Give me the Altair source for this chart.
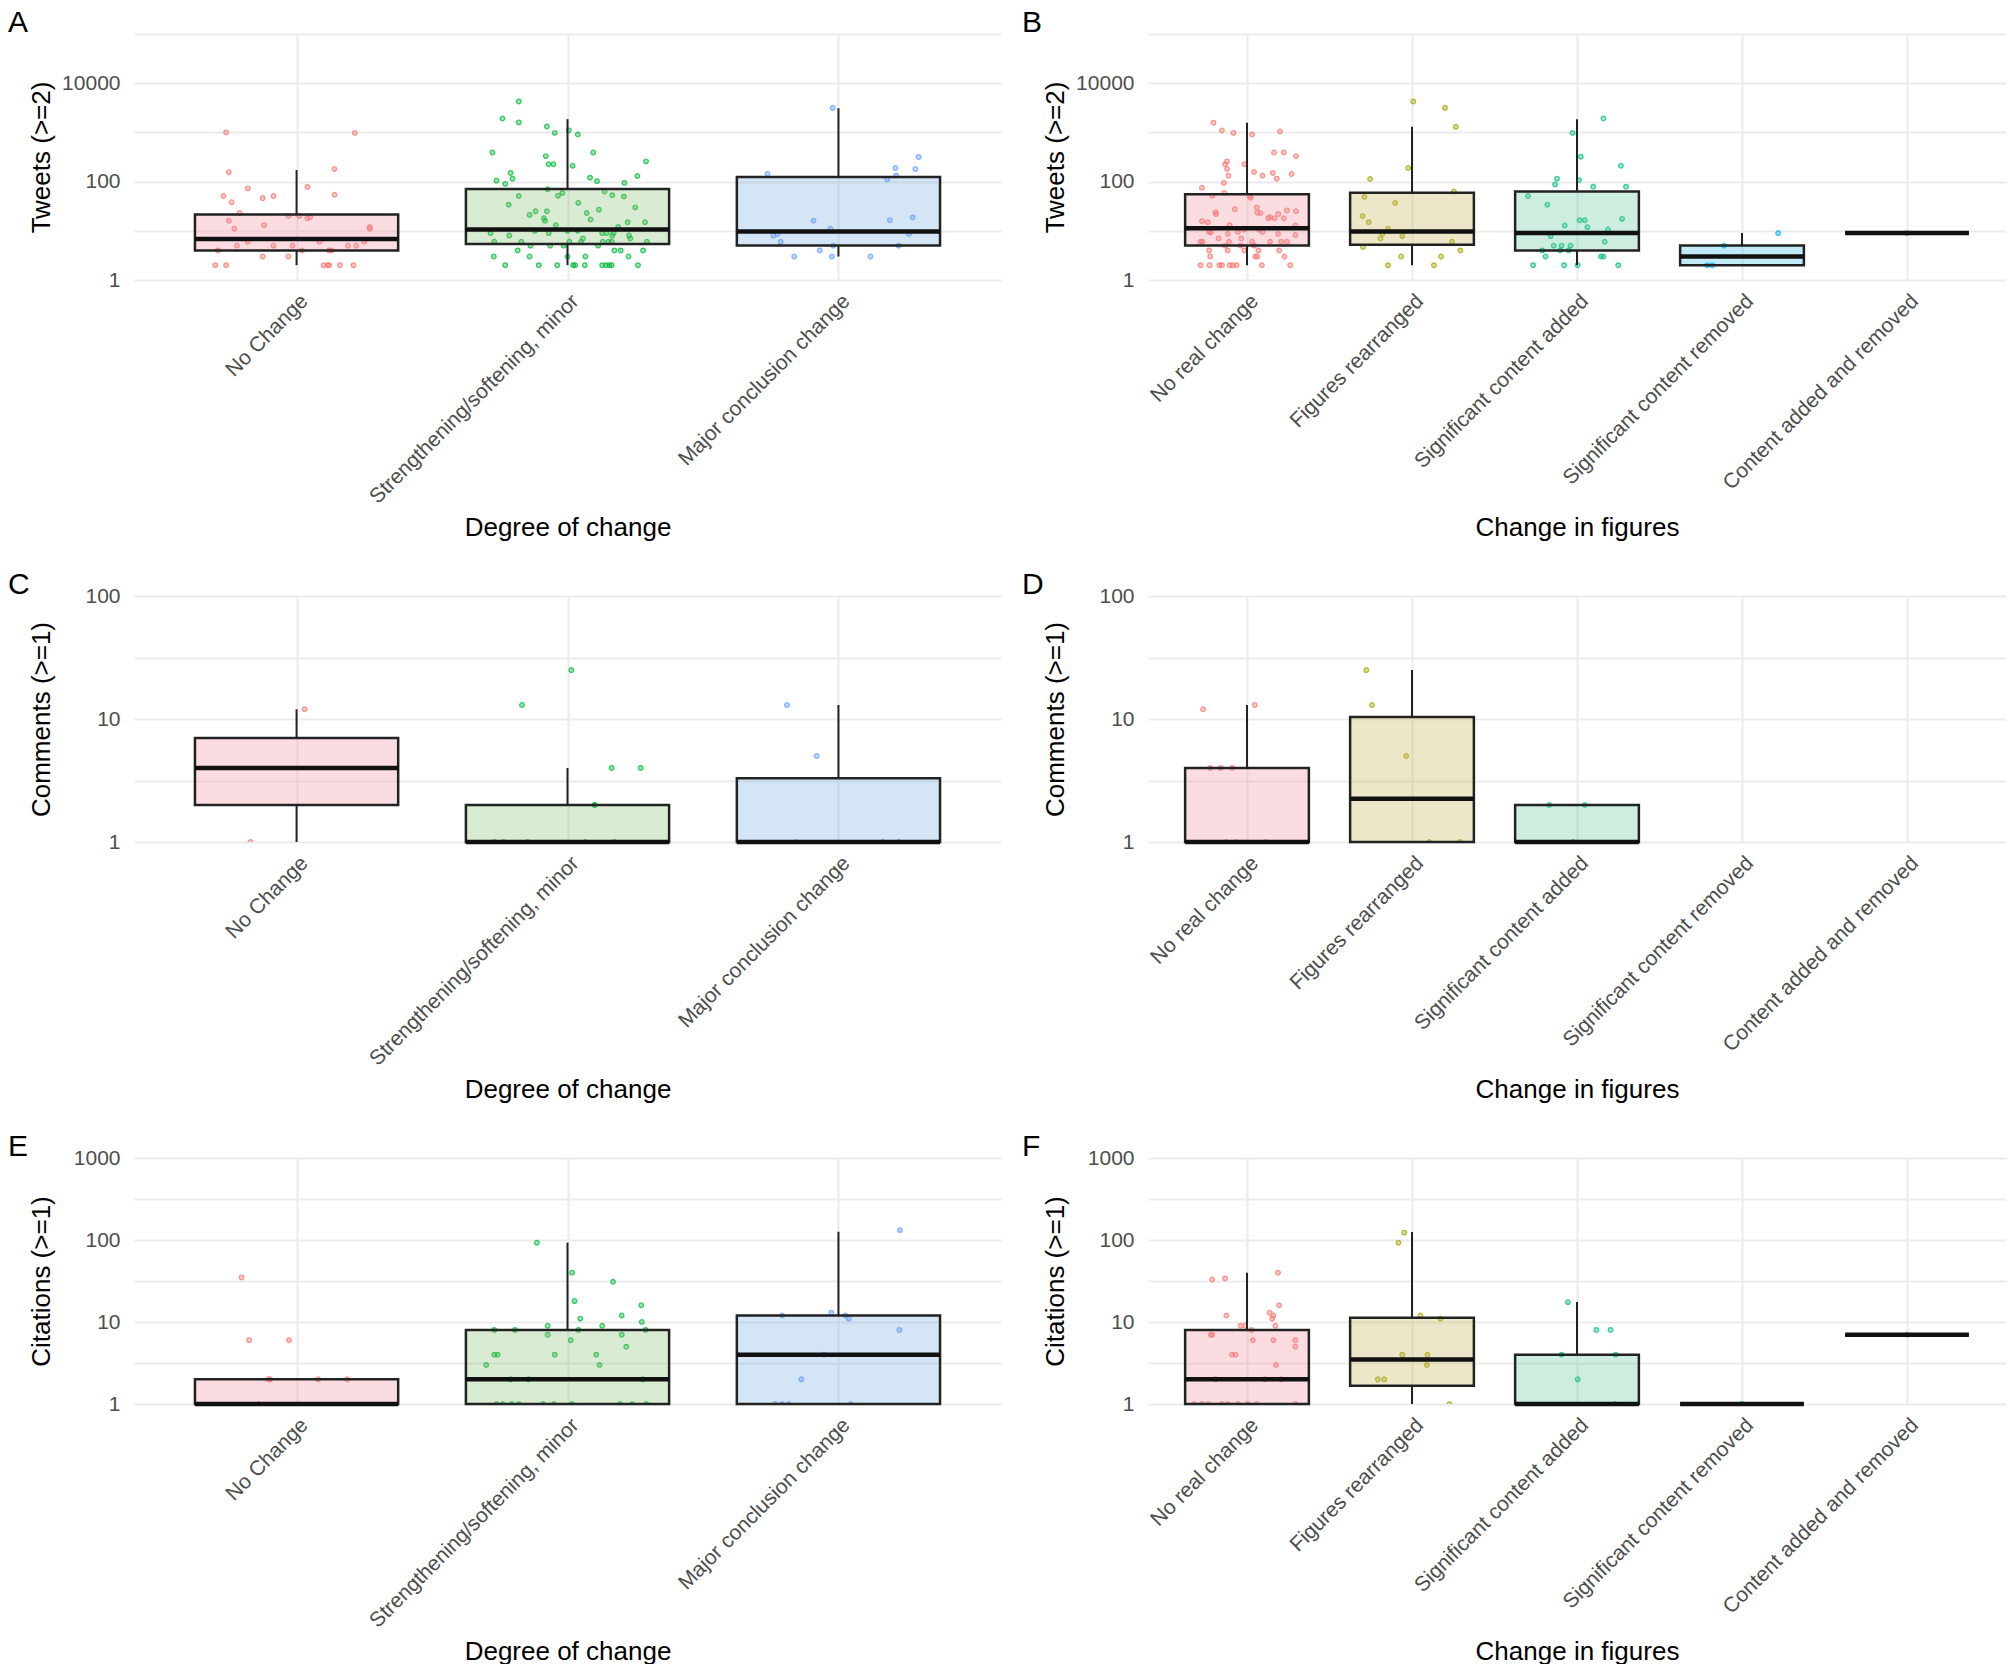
import json
import altair as alt
import pandas as pd

FONT = "Liberation Sans"

# ---------------- categories & colours ----------------
CATS_DEG = ["No Change", "Strengthening/softening, minor", "Major conclusion change"]
CATS_FIG = ["No real change", "Figures rearranged", "Significant content added",
            "Significant content removed", "Content added and removed"]
PT_DEG = ["#F8766D", "#00BA38", "#619CFF"]
PT_FIG = ["#F8766D", "#A3A500", "#00BF7D", "#00B0F6", "#E76BF3"]
FILL_DEG = ["#EE8A9B", "#84BC6C", "#70A8DE"]
FILL_FIG = ["#EE8A9B", "#C3AF4B", "#58C694", "#2AB9E1", "#E76BF3"]

# ---------------- panel A : Tweets by degree of change ----------------
A0_OFF = [-0.26, 0.215, -0.25, 0.14, -0.18, 0.04, -0.27, 0.14, -0.24, -0.125, -0.085, -0.21, -0.25, -0.12,
          -0.23, -0.03, 0.01, 0.04, 0.05, 0.27, 0.27, -0.18, -0.22, -0.085, -0.015, 0.085, 0.19, 0.22, 0.25,
          -0.29, 0.02, 0.12, 0.13, -0.125, -0.03, -0.30, -0.26, 0.10, 0.115, 0.12, 0.16, 0.21]
A0_VAL = [1000, 980, 155, 180, 73, 78, 51, 54, 38, 46, 51, 23, 16, 13, 11, 20, 20, 18, 19, 12, 11, 6, 5, 5, 5,
          6, 5, 5, 6, 4, 4, 4, 4, 3, 3, 2, 2, 2, 2, 2, 2, 2]
A1_OFF = [-0.18, -0.24, -0.18, -0.076, 0.005, -0.047, 0.038, -0.277, 0.095, -0.08,
          -0.07, -0.052, 0.019, 0.29, -0.21, 0.258, 0.083, -0.262, -0.203, -0.23,
          0.109, 0.21, -0.073, 0.137, -0.019, -0.035, 0.165, -0.18, 0.208, 0.04,
          -0.217, 0.25, 0.116, 0.071, -0.118, -0.076, -0.14, -0.087, -0.083, 0.085,
          -0.043, 0.222, 0.286, 0.187, 0.038, -0.284, -0.12, -0.069, 0.0, 0.128,
          0.144, 0.17, -0.215, 0.165, 0.227, 0.232, -0.27, -0.17, 0.057, 0.007,
          0.13, 0.151, 0.163, 0.293, 0.05, -0.137, -0.064, -0.014, 0.113, -0.184,
          0.173, 0.196, 0.279, -0.272, -0.14, 0.0, 0.066, 0.225, -0.23, -0.106,
          -0.038, 0.021, 0.028, 0.064, 0.128, 0.142, 0.154, 0.163, 0.26]
A1_VAL = [4260, 1920, 1600, 1320, 1100, 980, 910, 390, 390, 330,
          225, 225, 210, 258, 150, 130, 120, 105, 115, 90,
          102, 94, 70, 63, 59, 52, 53, 51, 50, 37,
          34, 30, 27, 23, 25, 25, 21, 18, 16, 17,
          13, 15, 15, 12, 10, 9, 10, 9, 10, 9,
          9, 9, 8, 8, 8, 7, 6, 6, 7, 6,
          6, 6, 6, 6, 6, 5, 5, 5, 5, 4,
          4, 4, 4, 3, 3, 3, 3, 3, 2, 2,
          2, 2, 2, 2, 2, 2, 2, 2, 2]
A2_OFF = [-0.021, -0.262, 0.21, 0.284, 0.296, 0.213, 0.18, -0.092, 0.19, 0.274, -0.03, -0.24, -0.225, 0.26,
          -0.213, -0.019, 0.222, -0.024, -0.163, -0.069, 0.118]
A2_VAL = [3160, 143, 189, 180, 317, 132, 111, 16, 16.5, 18.7, 11, 8, 8.6, 8.6, 6, 5, 5, 3, 3, 4, 3]
A_Q1 = [4, 5.4, 5]
A_MED = [6.8, 10.6, 9.7]
A_Q3 = [21.5, 71, 124]
A_LO = [2, 2, 3]
A_HI = [172, 1860, 3100]

# ---------------- panel B : Tweets by change in figures ----------------
B0_OFF = [-0.203, -0.152, -0.082, 0.031, 0.2, 0.164, 0.223, 0.297, -0.121, -0.133,
          -0.016, -0.121, -0.113, 0.043, 0.094, 0.156, 0.18, 0.27, -0.14, -0.273,
          -0.21, -0.137, 0.023, 0.016, -0.19, -0.188, -0.074, 0.059, 0.082, 0.063,
          0.129, 0.14, 0.168, 0.19, 0.223, 0.242, 0.297, -0.273, -0.238, -0.105,
          -0.016, 0.074, 0.293, -0.23, -0.219, -0.117, -0.055, 0.094, 0.188, -0.281,
          -0.27, -0.172, -0.109, -0.035, 0.031, 0.14, 0.207, 0.242, 0.293, -0.133,
          -0.039, 0.043, -0.23, -0.117, -0.016, 0.07, 0.195, -0.223, 0.05, 0.063,
          0.227, -0.281, -0.227, -0.168, -0.152, -0.105, -0.086, -0.063, 0.09, 0.262]
B0_VAL = [1580, 1100, 980, 910, 1050, 390, 390, 330, 258, 225,
          225, 180, 132, 158, 132, 150, 115, 143, 94, 75,
          52, 59, 47, 50, 24, 22, 27.5, 30, 23, 23.5,
          18, 19, 18, 22, 18, 26, 25, 15.7, 15, 13,
          10.6, 10.5, 12.8, 9.5, 9.3, 8.6, 9.5, 9.5, 8.6, 6,
          6, 7, 6, 7, 6, 6, 6, 6, 8.2, 5,
          5, 5, 4, 4, 4, 4, 4, 3, 3, 3,
          3, 2, 2, 2, 2, 2, 2, 2, 2, 2]
B1_OFF = [0.008, 0.2, 0.266, -0.023, -0.254, 0.254, -0.289, -0.102, -0.3, -0.262, -0.145, -0.18, -0.059,
          -0.191, 0.242, -0.297, 0.293, -0.066, 0.176, -0.145, 0.133]
B1_VAL = [4260, 3160, 1300, 189, 113, 63, 49, 37, 20, 15, 11, 8.7, 7.8, 7, 6, 4.7, 4, 3, 3, 2, 2]
B2_OFF = [0.16, -0.027, 0.023, 0.266, -0.121, 0.012, -0.133, 0.098, 0.297, -0.297, -0.18, 0.273, -0.074,
          0.016, 0.047, 0.188, 0.063, -0.16, 0.168, -0.141, -0.094, -0.039, -0.211, -0.102, -0.051, -0.191,
          0.145, 0.16, -0.266, -0.078, 0.004, 0.25]
B2_VAL = [1920, 980, 320, 210, 115, 107, 88, 79, 79, 51, 34, 17.5, 12.8, 16.4, 16.4, 10.6, 11.9, 7.8, 6,
          5, 5, 5, 4, 4, 4, 3, 3, 3, 2, 2, 2, 2]
B3_OFF = [0.219, -0.109, -0.211, -0.18]
B3_VAL = [9, 5, 2, 2]
B4_OFF = [0.0]
B4_VAL = [9]
B_Q1 = [5, 5.2, 4, 2, 9]
B_MED = [11.3, 9.7, 9, 3, 9]
B_Q3 = [55, 59, 63, 5, 9]
B_LO = [2, 2, 2, 2, 9]
B_HI = [1580, 1300, 1860, 9, 9]

# ---------------- panel C : Comments by degree of change ----------------
C0_OFF = [0.03, -0.17]
C0_VAL = [12, 1]
C1_OFF = [0.014, -0.168, 0.163, 0.27, 0.10, 0.10, -0.27, -0.236, -0.147, 0.066, 0.173]
C1_VAL = [25, 13, 4, 4, 2, 2, 1, 1, 1, 1, 1]
C2_OFF = [-0.19, -0.08, -0.156, 0.163, 0.222]
C2_VAL = [13, 5, 1, 1, 1]
C_Q1 = [2, 1, 1]
C_MED = [4, 1, 1]
C_Q3 = [7, 2, 3.3]
C_LO = [1, 1, 1]
C_HI = [12, 4, 13]

# ---------------- panel D : Comments by change in figures ----------------
D0_OFF = [-0.266, 0.047, -0.223, -0.16, -0.09, -0.125, -0.07, 0.113]
D0_VAL = [12, 13, 4, 4, 4, 1, 1, 1]
D1_OFF = [-0.277, -0.242, -0.035, 0.105, 0.293]
D1_VAL = [25, 13, 5, 1, 1]
D2_OFF = [-0.168, 0.047, -0.023]
D2_VAL = [2, 2, 1]
D_IDX = [0, 1, 2]
D_Q1 = [1, 1, 1]
D_MED = [1, 2.25, 1]
D_Q3 = [4, 10.4, 2]
D_LO = [1, 1, 1]
D_HI = [13, 25, 2]

# ---------------- panel E : Citations by degree of change ----------------
E0_OFF = [-0.203, -0.175, -0.028, -0.104, -0.097, 0.08, 0.187, -0.14]
E0_VAL = [35, 6, 6, 2, 2, 2, 2, 1]
E1_OFF = [-0.113, 0.017, 0.168, 0.026, 0.272, 0.2, 0.047, -0.073, 0.128, 0.274,
          -0.27, -0.194, 0.04, 0.288, -0.073, 0.2, 0.012, 0.217, -0.27, -0.258,
          -0.047, 0.106, -0.3, 0.118, -0.21, -0.144, 0.277,
          -0.262, -0.239, -0.206, -0.18, -0.09, -0.05, 0.017, 0.194, 0.239, 0.291]
E1_VAL = [93, 40, 31, 18, 16, 12, 11, 9, 9, 10,
          8, 8, 8, 8, 7, 7, 6, 5, 4, 4,
          4, 4, 3, 3, 2, 2, 2,
          1, 1, 1, 1, 1, 1, 1, 1, 1, 1]
E2_OFF = [0.227, -0.208, -0.026, 0.026, 0.038, 0.225, -0.137, -0.054, -0.234, -0.208, -0.184, 0.045]
E2_VAL = [132, 12, 13, 12, 11, 8, 2, 4, 1, 1, 1, 1]
E_Q1 = [1, 1, 1]
E_MED = [1, 2, 4]
E_Q3 = [2, 8, 12]
E_LO = [1, 1, 1]
E_HI = [2, 93, 126]

# ---------------- panel F : Citations by change in figures ----------------
F0_OFF = [-0.211, -0.133, 0.188, 0.195, -0.125, 0.137, 0.16, 0.152, -0.039, -0.012, 0.172, 0.027,
          -0.211, -0.219, 0.293, 0.035, 0.16, 0.293, -0.09, -0.07, 0.176, -0.191, 0.109, 0.207,
          -0.32, -0.273, -0.234, -0.152, -0.117, -0.055, 0.004, 0.059, 0.293]
F0_VAL = [33, 34, 40, 16, 12, 13, 12, 11, 9, 9, 9, 8,
          7, 7, 6, 6, 6, 5, 4, 4, 3, 2, 2, 2,
          1, 1, 1, 1, 1, 1, 1, 1, 1]
F1_OFF = [-0.047, -0.082, 0.051, 0.172, -0.059, 0.094, 0.09, -0.207, -0.168, 0.227]
F1_VAL = [123, 93, 12, 11, 4, 4, 3, 2, 2, 1]
F2_OFF = [-0.055, 0.117, 0.203, -0.094, 0.234, 0.004, 0.23]
F2_VAL = [17.5, 8, 8, 4, 4, 2, 1]
F3_OFF = [0.0]
F3_VAL = [1]
F4_OFF = [0.0]
F4_VAL = [7]
F_Q1 = [1, 1.67, 1, 1, 7]
F_MED = [2, 3.5, 1, 1, 7]
F_Q3 = [8, 11.3, 4, 1, 7]
F_LO = [1, 1, 1, 1, 7]
F_HI = [40, 125, 17.5, 1, 7]

# ---------------- y axis ticks ----------------
TICKS_TWEETS = [1, 10, 100, 1000, 10000, 100000]
LABELS_TWEETS = [1, 100, 10000]
TICKS_COMMENTS = [1, 10 ** 0.5, 10, 10 ** 1.5, 100]
LABELS_COMMENTS = [1, 10, 100]
TICKS_CIT = [1, 10 ** 0.5, 10, 10 ** 1.5, 100, 10 ** 2.5, 1000]
LABELS_CIT = [1, 10, 100, 1000]

W1, W2, H = 867, 858, 246
BOX_HALF = 0.375
LINE = "#222222"


def panel(letter, cats, pt_colors, fill_colors, pts, box, ytitle, xtitle, ydomain,
          yticks, ylabels, width):
    n = len(cats)
    frames = []
    for i, (offs, vals) in enumerate(pts):
        d = pd.DataFrame({"off": offs, "y": vals})
        d["xp"] = i + d["off"]
        d["color"] = pt_colors[i]
        frames.append(d)
    pdf = pd.concat(frames, ignore_index=True)
    idx, q1, med, q3, lo, hi = box
    bdf = pd.DataFrame({"idx": idx, "q1": q1, "med": med, "q3": q3, "lo": lo, "hi": hi})
    bdf["fill"] = [fill_colors[i] for i in idx]

    xs = alt.Scale(domain=[-0.6, n - 1 + 0.6], nice=False, zero=False)
    ys = alt.Scale(type="log", domain=ydomain, nice=False)

    x_axis = alt.Axis(values=list(range(n)), labelExpr=json.dumps(cats) + "[datum.value]",
                      labelAngle=-45, labelAlign="right", labelBaseline="top", labelPadding=10,
                      title=xtitle, titleY=255, titleBaseline="alphabetic")
    y_axis = alt.Axis(values=yticks, format="d",
                      labelExpr="indexof(" + json.dumps(ylabels) + ", datum.value) >= 0 ? datum.label : ''",
                      labelPadding=14, labelBaseline="middle",
                      title=ytitle, titleX=-85, titleBaseline="alphabetic")

    def X(f):
        return alt.X(f, scale=xs, axis=x_axis)

    def Y(f):
        return alt.Y(f, scale=ys, axis=y_axis)

    points = alt.Chart(pdf).mark_circle(size=22, fillOpacity=0.4, strokeOpacity=0.75,
                                        strokeWidth=1.2, clip=True).encode(
        x=X("xp:Q"), y=Y("y:Q"),
        fill=alt.Fill("color:N", scale=None),
        stroke=alt.Stroke("color:N", scale=None),
    )
    base = alt.Chart(bdf).transform_calculate(
        x0=f"datum.idx - {BOX_HALF}", x1=f"datum.idx + {BOX_HALF}")
    boxes = base.mark_rect(fillOpacity=0.3, stroke=LINE, strokeWidth=2.5).encode(
        x=X("x0:Q"), x2="x1:Q", y=Y("q1:Q"), y2="q3:Q",
        fill=alt.Fill("fill:N", scale=None),
    )
    w_hi = base.mark_rule(color=LINE, strokeWidth=2).encode(x=X("idx:Q"), y=Y("q3:Q"), y2="hi:Q")
    w_lo = base.mark_rule(color=LINE, strokeWidth=2).encode(x=X("idx:Q"), y=Y("lo:Q"), y2="q1:Q")
    meds = base.mark_rule(color="#111111", strokeWidth=4.5).encode(
        x=X("x0:Q"), x2="x1:Q", y=Y("med:Q"))
    tag = alt.Chart(pd.DataFrame({"t": [letter]})).mark_text(
        font=FONT, fontSize=30, color="black", align="left", baseline="alphabetic"
    ).encode(text="t:N", x=alt.value(-126), y=alt.value(-2))

    return alt.layer(points, boxes, w_hi, w_lo, meds, tag).properties(width=width, height=H)


pA = panel("A", CATS_DEG, PT_DEG, FILL_DEG,
           [(A0_OFF, A0_VAL), (A1_OFF, A1_VAL), (A2_OFF, A2_VAL)],
           ([0, 1, 2], A_Q1, A_MED, A_Q3, A_LO, A_HI),
           "Tweets (>=2)", "Degree of change", [1, 100000], TICKS_TWEETS, LABELS_TWEETS, W1)
pB = panel("B", CATS_FIG, PT_FIG, FILL_FIG,
           [(B0_OFF, B0_VAL), (B1_OFF, B1_VAL), (B2_OFF, B2_VAL), (B3_OFF, B3_VAL), (B4_OFF, B4_VAL)],
           ([0, 1, 2, 3, 4], B_Q1, B_MED, B_Q3, B_LO, B_HI),
           "Tweets (>=2)", "Change in figures", [1, 100000], TICKS_TWEETS, LABELS_TWEETS, W2)
pC = panel("C", CATS_DEG, PT_DEG, FILL_DEG,
           [(C0_OFF, C0_VAL), (C1_OFF, C1_VAL), (C2_OFF, C2_VAL)],
           ([0, 1, 2], C_Q1, C_MED, C_Q3, C_LO, C_HI),
           "Comments (>=1)", "Degree of change", [1, 100], TICKS_COMMENTS, LABELS_COMMENTS, W1)
pD = panel("D", CATS_FIG, PT_FIG, FILL_FIG,
           [(D0_OFF, D0_VAL), (D1_OFF, D1_VAL), (D2_OFF, D2_VAL)],
           (D_IDX, D_Q1, D_MED, D_Q3, D_LO, D_HI),
           "Comments (>=1)", "Change in figures", [1, 100], TICKS_COMMENTS, LABELS_COMMENTS, W2)
pE = panel("E", CATS_DEG, PT_DEG, FILL_DEG,
           [(E0_OFF, E0_VAL), (E1_OFF, E1_VAL), (E2_OFF, E2_VAL)],
           ([0, 1, 2], E_Q1, E_MED, E_Q3, E_LO, E_HI),
           "Citations (>=1)", "Degree of change", [1, 1000], TICKS_CIT, LABELS_CIT, W1)
pF = panel("F", CATS_FIG, PT_FIG, FILL_FIG,
           [(F0_OFF, F0_VAL), (F1_OFF, F1_VAL), (F2_OFF, F2_VAL), (F3_OFF, F3_VAL), (F4_OFF, F4_VAL)],
           ([0, 1, 2, 3, 4], F_Q1, F_MED, F_Q3, F_LO, F_HI),
           "Citations (>=1)", "Change in figures", [1, 1000], TICKS_CIT, LABELS_CIT, W2)

chart = alt.concat(
    pA, pB, pC, pD, pE, pF, columns=2, bounds="flush",
    spacing={"row": 316, "column": 147},
).properties(
    padding={"left": 0, "top": 0, "right": 0, "bottom": 0},
    background="white",
).configure_view(stroke=None).configure_axis(
    labelFont=FONT, titleFont=FONT, labelFontSize=21, labelColor="#4D4D4D",
    titleFontSize=26, titleColor="black", titleFontWeight="normal",
    grid=True, gridColor="#EBEBEB", gridWidth=2, ticks=False, domain=False,
    labelOverlap=False, labelFlush=False, labelLimit=0,
)

chart.save("out.html", embed_options={"renderer": "svg", "actions": False})
